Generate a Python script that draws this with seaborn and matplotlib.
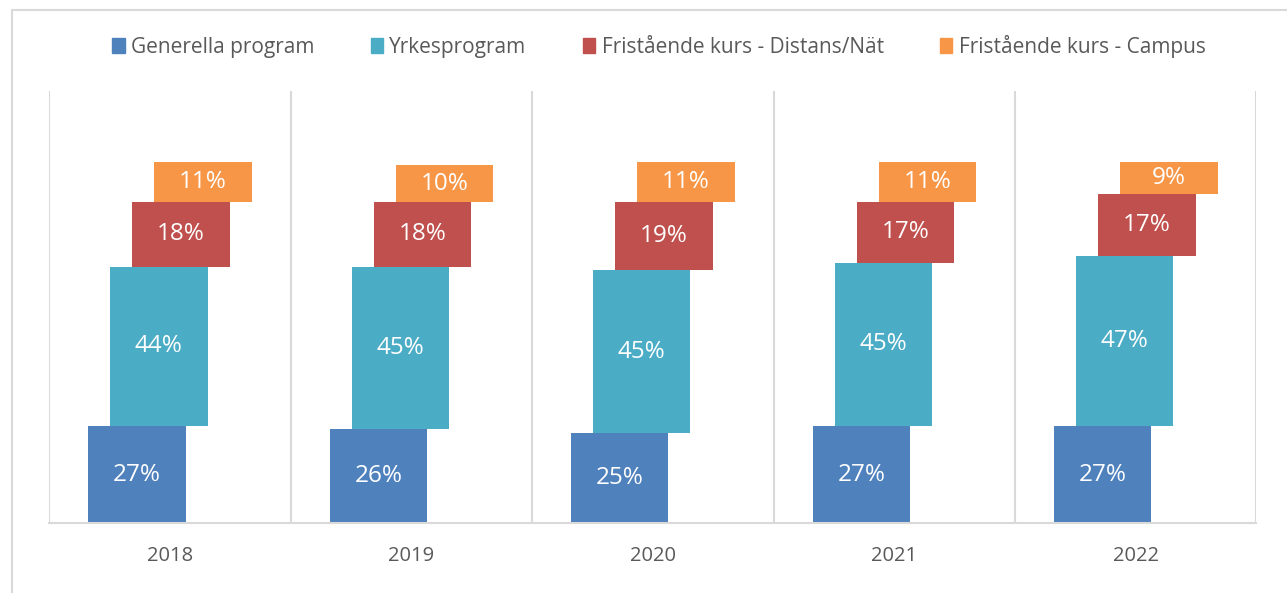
import numpy as np
import pandas as pd
import matplotlib.pyplot as plt
import seaborn as sns
from matplotlib.lines import Line2D
from matplotlib.patches import Patch

years = ["2018", "2019", "2020", "2021", "2022"]
series = ["Generella program", "Yrkesprogram",
          "Fristående kurs - Distans/Nät", "Fristående kurs - Campus"]
generella = [27, 26, 25, 27, 27]
yrkes = [44, 45, 45, 45, 47]
distans = [18, 18, 19, 17, 17]
campus = [11, 10, 11, 11, 9]
colors = ["#4F81BD", "#4BACC6", "#C0504D", "#F79646"]

sns.set_theme(style="white")
plt.rcParams["font.family"] = ["Open Sans", "DejaVu Sans"]

fig = plt.figure(figsize=(12.87, 5.93), dpi=100)
ax = fig.add_axes([0.0383, 0.1175, 0.9380, 0.729])

# each series is stacked but shifted a bit to the right
bar_w = 0.403
shift = [-0.137, -0.046, 0.046, 0.137]
bottom = np.zeros(len(years))
for name, vals, col, dx in zip(series, [generella, yrkes, distans, campus], colors, shift):
    df = pd.DataFrame({"x": np.arange(len(years)) + dx, "y": vals})
    sns.barplot(data=df, x="x", y="y", native_scale=True, orient="x",
                width=bar_w, color=col, saturation=1, bottom=bottom,
                linewidth=0, errorbar=None, ax=ax)
    ax.bar_label(ax.containers[-1], labels=[f"{v}%" for v in vals],
                 label_type="center", color="white", fontsize=17.5)
    bottom = bottom + np.array(vals)

ax.set_xlim(-0.5, 4.5)
ax.set_ylim(0, 119.6)
ax.set_xticks(range(len(years)))
ax.set_xticklabels(years)
ax.set_xticks(np.arange(-0.5, len(years)), minor=True)
ax.grid(False)
ax.grid(axis="x", which="minor", color="#D9D9D9", lw=1.5)
ax.tick_params(axis="x", which="both", length=0, pad=16, labelsize=14.5, labelcolor="#595959")
ax.set_yticks([])
ax.set_xlabel("")
ax.set_ylabel("")
for s in ["left", "right", "top"]:
    ax.spines[s].set_visible(False)
ax.spines["bottom"].set_color("#D9D9D9")
ax.spines["bottom"].set_linewidth(1.5)

handles = [Patch(color=c) for c in colors]
fig.legend(handles, series, loc="center", bbox_to_anchor=(0.512, 0.922), ncol=4,
           frameon=False, fontsize=15, handlelength=0.6, handleheight=0.7,
           handletextpad=0.3, columnspacing=2.7, labelcolor="#595959")

# outer frame lines
fig.add_artist(Line2D([11.5 / 1287] * 2, [0, 1 - 9.5 / 593], color="#D9D9D9", lw=1.5))
fig.add_artist(Line2D([11.5 / 1287, 1], [1 - 9.5 / 593] * 2, color="#D9D9D9", lw=1.5))

fig.savefig("out.png", dpi=100)
